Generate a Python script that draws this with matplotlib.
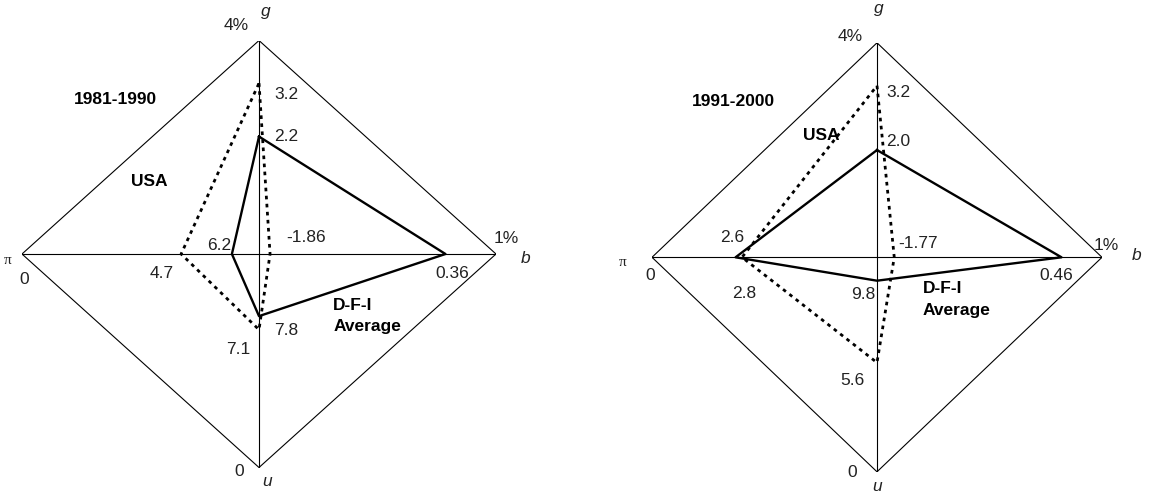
import numpy as np
import matplotlib.pyplot as plt

plt.rcParams['font.family'] = ['Liberation Sans', 'DejaVu Sans']

W, H = 1167, 495

# scale of each axis: (value at centre, value at outer vertex)
G_SCALE = (0, 4)
B_SCALE = (-2, 1)
PI_SCALE = (7, 0)
U_SCALE = (11, 0)

periods = ['1981-1990', '1991-2000']

usa_g = [3.2, 3.2]
usa_b = [-1.86, -1.77]
usa_pi = [4.7, 2.8]
usa_u = [7.1, 5.6]

dfi_g = [2.2, 2.0]
dfi_b = [0.36, 0.46]
dfi_pi = [6.2, 2.6]
dfi_u = [7.8, 9.8]

# panel geometry in pixels: centre x, centre y, half width, half height
panels = [(259, 254, 237, 213.5), (877, 257.3, 225, 214.5)]

# value label offsets (pixels) for g, b, u, pi
usa_off = [[(27, -11), (36, 17), (-21, -20), (-19, -19)],
           [(21, -7), (24, 14), (-25, -18), (2, -36)]]
dfi_off = [[(27, 0), (7, -19), (27, -14), (-13, 8)],
           [(21, 9), (-5, -18), (-14, -14), (-3, 20)]]

# axis end labels: (text, offset from centre in pixels, style)
ends = [
    [('g', (6.7, 242.5), 'it'), ('4%', (-23.3, 229), ''),
     ('1%', (247.7, 15.7), ''), ('b', (267, -4.3), 'it'),
     ('\u03c0', (-251, -6), 'pi'), ('0', (-234.7, -26), ''),
     ('0', (-19.7, -217.5), ''), ('u', (7.7, -228), 'it')],
    [('g', (1.3, 249.3), 'it'), ('4%', (-27, 220.6), ''),
     ('1%', (229.4, 12.3), ''), ('b', (259.4, 2.3), 'it'),
     ('\u03c0', (-254.6, -5.4), 'pi'), ('0', (-226.6, -17.7), ''),
     ('0', (-24.7, -215.5), ''), ('u', (0, -229.5), 'it')],
]
title_off = [(-144, 155), (-143.7, 155.6)]
usa_txt_off = [(-110, 72.3), (-56, 122.3)]
dfi_txt_off = [(74.3, -51), (45.7, -31)]

FS = 12.5
TXT = '#222222'


def frac(v, scale):
    return (v - scale[0]) / (scale[1] - scale[0])


def points(g, b, u, pi):
    xs = [0, frac(b, B_SCALE), 0, -frac(pi, PI_SCALE)]
    ys = [frac(g, G_SCALE), 0, -frac(u, U_SCALE), 0]
    return xs, ys


fig = plt.figure(figsize=(W / 100, H / 100), dpi=100)

for i, (cx, cy, hw, hh) in enumerate(panels):
    ax = fig.add_axes([(cx - hw) / W, (H - cy - hh) / H, 2 * hw / W, 2 * hh / H])
    ax.set_xlim(-1, 1)
    ax.set_ylim(-1, 1)
    ax.axis('off')

    # diamond and cross
    ax.plot([0, 1, 0, -1, 0], [1, 0, -1, 0, 1], color='black', lw=0.8)
    ax.plot([-1, 1], [0, 0], color='black', lw=0.8)
    ax.plot([0, 0], [-1, 1], color='black', lw=0.8)

    ux, uy = points(usa_g[i], usa_b[i], usa_u[i], usa_pi[i])
    dx, dy = points(dfi_g[i], dfi_b[i], dfi_u[i], dfi_pi[i])
    ax.plot(ux + ux[:1], uy + uy[:1], color='black', lw=2.0,
            linestyle=(0, (1.3, 1.6)), clip_on=False)
    ax.plot(dx + dx[:1], dy + dy[:1], color='black', lw=1.7, clip_on=False)

    usa_vals = [usa_g[i], usa_b[i], usa_u[i], usa_pi[i]]
    dfi_vals = [dfi_g[i], dfi_b[i], dfi_u[i], dfi_pi[i]]
    for k in range(4):
        ax.annotate(str(usa_vals[k]), (ux[k], uy[k]), xytext=usa_off[i][k],
                    textcoords='offset pixels', ha='center', va='center',
                    fontsize=FS, color=TXT)
        txt = '%.1f' % dfi_vals[k] if k != 1 else str(dfi_vals[k])
        ax.annotate(txt, (dx[k], dy[k]), xytext=dfi_off[i][k],
                    textcoords='offset pixels', ha='center', va='center',
                    fontsize=FS, color=TXT)

    for t, off, style in ends[i]:
        kw = dict(fontsize=FS, color=TXT)
        if style == 'it':
            kw['style'] = 'italic'
        if style == 'pi':
            kw['family'] = ['Liberation Serif', 'DejaVu Serif']
            kw['fontsize'] = 11
        ax.annotate(t, (0, 0), xytext=off, textcoords='offset pixels',
                    ha='center', va='center', annotation_clip=False, **kw)

    ax.annotate(periods[i], (0, 0), xytext=title_off[i], textcoords='offset pixels',
                ha='center', va='center', fontsize=FS, fontweight='bold')
    ax.annotate('USA', (0, 0), xytext=usa_txt_off[i], textcoords='offset pixels',
                ha='center', va='center', fontsize=FS, fontweight='bold')
    ox, oy = dfi_txt_off[i]
    ax.annotate('D-F-I', (0, 0), xytext=(ox, oy), textcoords='offset pixels',
                ha='left', va='center', fontsize=FS, fontweight='bold')
    ax.annotate('Average', (0, 0), xytext=(ox, oy - 21.7), textcoords='offset pixels',
                ha='left', va='center', fontsize=FS, fontweight='bold')

fig.savefig('out.png', dpi=100)
